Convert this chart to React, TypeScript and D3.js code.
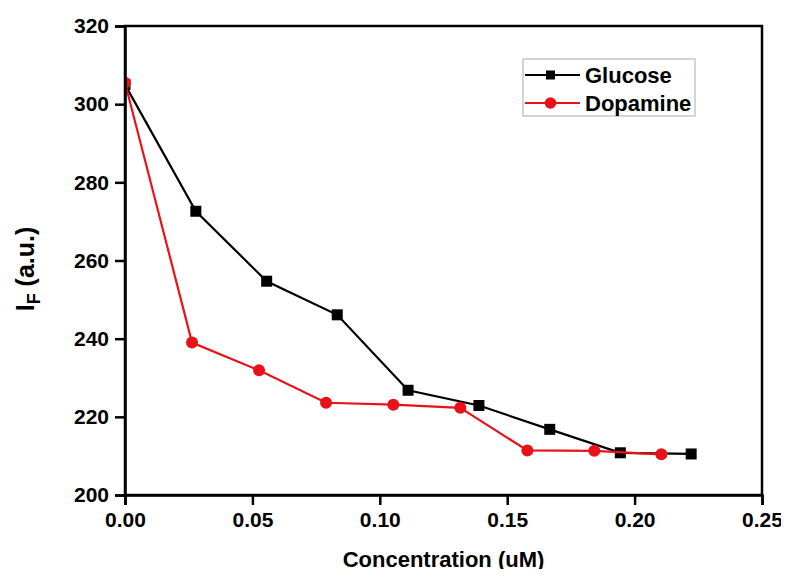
import React, { useEffect, useRef } from "react";
import * as d3 from "d3";

// concentration steps (uM) for each series
const glucoseX = [0, 0.0278, 0.0556, 0.0833, 0.1111, 0.1389, 0.1667, 0.1944, 0.2222];
const glucoseY = [305.0, 272.6, 254.7, 246.1, 226.8, 222.9, 216.8, 210.8, 210.5];
const dopamineX = [0, 0.0263, 0.0526, 0.0789, 0.1053, 0.1316, 0.1579, 0.1842, 0.2105];
const dopamineY = [305.5, 239.0, 231.9, 223.6, 223.1, 222.3, 211.4, 211.3, 210.4];
const xTicks = [0, 0.05, 0.1, 0.15, 0.2, 0.25];
const yTicks = [200, 220, 240, 260, 280, 300, 320];

const W = 789;
const H = 577;
const margin = { top: 26, right: 27, bottom: 82, left: 125 };
const FONT = "Arial, 'Liberation Sans', sans-serif";
const RED = "#ea1218";

export default function App() {
  const svgRef = useRef<SVGSVGElement>(null);

  useEffect(() => {
    const svg = d3.select(svgRef.current);
    svg.selectAll("*").remove();

    const x = d3.scaleLinear().domain([0, 0.25]).range([margin.left, W - margin.right]);
    const y = d3.scaleLinear().domain([200, 320]).range([H - margin.bottom, margin.top]);

    svg
      .append("defs")
      .append("clipPath")
      .attr("id", "plot-clip")
      .append("rect")
      .attr("x", x(0))
      .attr("y", y(320))
      .attr("width", x(0.25) - x(0))
      .attr("height", y(200) - y(320));

    const line = d3
      .line<[number, number]>()
      .x((d) => x(d[0]))
      .y((d) => y(d[1]));

    const gluc: [number, number][] = glucoseX.map((v, i) => [v, glucoseY[i]]);
    const dopa: [number, number][] = dopamineX.map((v, i) => [v, dopamineY[i]]);

    const plot = svg.append("g").attr("clip-path", "url(#plot-clip)");

    plot.append("path").datum(gluc).attr("d", line).attr("fill", "none").attr("stroke", "#000").attr("stroke-width", 2.2);
    plot
      .selectAll(".sq")
      .data(gluc)
      .enter()
      .append("rect")
      .attr("class", "sq")
      .attr("x", (d) => x(d[0]) - 5.5)
      .attr("y", (d) => y(d[1]) - 5.5)
      .attr("width", 11)
      .attr("height", 11)
      .attr("fill", "#000");

    plot.append("path").datum(dopa).attr("d", line).attr("fill", "none").attr("stroke", RED).attr("stroke-width", 2.2);
    plot
      .selectAll(".ci")
      .data(dopa)
      .enter()
      .append("circle")
      .attr("class", "ci")
      .attr("cx", (d) => x(d[0]))
      .attr("cy", (d) => y(d[1]))
      .attr("r", 6)
      .attr("fill", RED);

    // frame
    svg
      .append("rect")
      .attr("x", margin.left)
      .attr("y", margin.top)
      .attr("width", x(0.25) - x(0))
      .attr("height", y(200) - y(320))
      .attr("fill", "none")
      .attr("stroke", "#000")
      .attr("stroke-width", 2.5);

    const xAxis = svg
      .append("g")
      .attr("transform", `translate(0,${y(200)})`)
      .call(
        d3.axisBottom(x)
          .tickValues(xTicks)
          .tickSize(10)
          .tickPadding(7)
          .tickFormat((d: any) => d3.format(".2f")(d))
      );
    const yAxis = svg
      .append("g")
      .attr("transform", `translate(${x(0)},0)`)
      .call(d3.axisLeft(y).tickValues(yTicks).tickSize(10).tickPadding(6));

    [xAxis, yAxis].forEach((g) => {
      g.select(".domain").attr("stroke-width", 2.5);
      g.selectAll(".tick line").attr("stroke-width", 2.5);
      g.selectAll(".tick text")
        .attr("font-family", FONT)
        .attr("font-size", 21)
        .attr("font-weight", "bold")
        .attr("fill", "#000");
    });

    // axis titles
    svg
      .append("text")
      .attr("x", (x(0) + x(0.25)) / 2)
      .attr("y", 567)
      .attr("text-anchor", "middle")
      .attr("font-family", FONT)
      .attr("font-size", 22)
      .attr("font-weight", "bold")
      .text("Concentration (uM)");

    const yl = svg
      .append("text")
      .attr("transform", `translate(34,269) rotate(-90)`)
      .attr("text-anchor", "middle")
      .attr("font-family", FONT)
      .attr("font-size", 25)
      .attr("font-weight", "bold");
    yl.append("tspan").text("I");
    yl.append("tspan").attr("font-size", 18).attr("dy", 6).text("F");
    yl.append("tspan").attr("dy", -6).text(" (a.u.)");

    // legend
    const lg = svg.append("g").attr("transform", "translate(523,59)");
    lg.append("rect").attr("width", 172).attr("height", 57).attr("fill", "#fff").attr("stroke", "#aaa").attr("stroke-width", 1);
    const items = [
      { name: "Glucose", color: "#000", shape: "square" },
      { name: "Dopamine", color: RED, shape: "circle" },
    ];
    items.forEach((it, i) => {
      const cy = 16 + i * 28;
      lg.append("line").attr("x1", 2).attr("x2", 57).attr("y1", cy).attr("y2", cy).attr("stroke", it.color).attr("stroke-width", 2.2);
      if (it.shape === "square") {
        lg.append("rect").attr("x", 23).attr("y", cy - 4.5).attr("width", 9).attr("height", 9).attr("fill", "#000");
      } else {
        lg.append("circle").attr("cx", 27.5).attr("cy", cy).attr("r", 5.8).attr("fill", RED);
      }
      lg.append("text")
        .attr("x", 62)
        .attr("y", cy + 7.5)
        .attr("font-family", FONT)
        .attr("font-size", 22)
        .attr("font-weight", "bold")
        .text(it.name);
    });
  }, []);

  return (
    <div style={{ margin: -8 }}>
      <svg ref={svgRef} width={W} height={H} style={{ display: "block", background: "#fff" }} />
    </div>
  );
}
